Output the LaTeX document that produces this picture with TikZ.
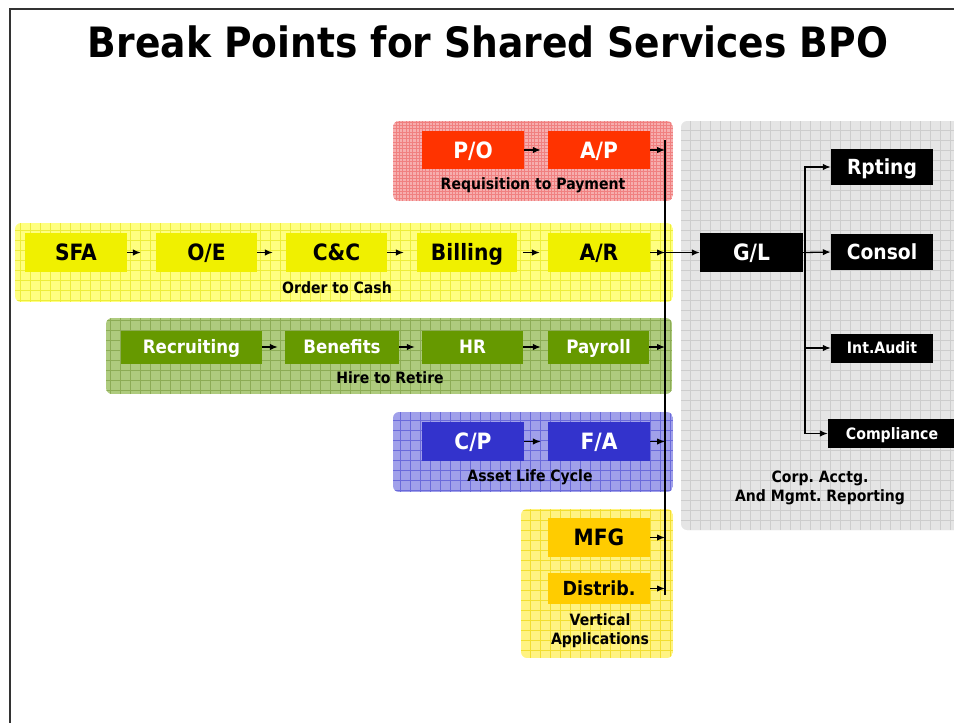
\documentclass[tikz,border=0pt]{standalone}
\usepackage{fontspec}
\newfontfamily\bpfont{DejaVu Sans}[FakeStretch=0.9]
\usetikzlibrary{arrows.meta,calc}
\frenchspacing

\definecolor{redbox}{HTML}{FF3300}
\definecolor{redpanel}{HTML}{F6AEAE}
\definecolor{redgrid}{HTML}{F08080}
\definecolor{yelbox}{HTML}{F0F000}
\definecolor{yelpanel}{HTML}{FFFF80}
\definecolor{yelgrid}{HTML}{EDED3A}
\definecolor{grnbox}{HTML}{669900}
\definecolor{grnpanel}{HTML}{AECB7E}
\definecolor{grngrid}{HTML}{8CAC55}
\definecolor{blubox}{HTML}{3333CC}
\definecolor{blupanel}{HTML}{A0A0EA}
\definecolor{blugrid}{HTML}{6A6ADA}
\definecolor{ambbox}{HTML}{FFCC00}
\definecolor{ambpanel}{HTML}{FFF382}
\definecolor{ambgrid}{HTML}{F2DE30}
\definecolor{gypanel}{HTML}{E5E5E5}
\definecolor{gygrid}{HTML}{CDCDCD}
\definecolor{framecol}{HTML}{333333}

% rounded background panel with a ruled grid: x1,y1,x2,y2,fill,grid colour,grid step
\newcommand\gridpanel[7]{%
  \begin{scope}
    \clip[rounded corners=6pt] (#1,#2) rectangle (#3,#4);
    \fill[#5] (#1,#2) rectangle (#3,#4);
    \draw[#6, line width=0.5pt, step=#7] (#1,#2) grid (#3,#4);
  \end{scope}}

\tikzset{
  box/.style={rectangle, inner sep=0pt, text depth=0pt},
  big/.style={box, font=\bpfont\bfseries\fontsize{22.5}{26}\selectfont, text height=16.4pt},
  mid/.style={box, font=\bpfont\bfseries\fontsize{18.5}{22}\selectfont, text height=13.5pt},
  redb/.style={big, fill=redbox, text=white, minimum width=102pt, minimum height=38pt},
  yelb/.style={big, fill=yelbox, text=black, minimum width=101pt, minimum height=39pt},
  grnb/.style={mid, fill=grnbox, text=white, minimum height=33pt},
  blub/.style={big, fill=blubox, text=white, minimum width=102pt, minimum height=39pt},
  ambb/.style={fill=ambbox, text=black, minimum width=102pt},
  blkb/.style={fill=black, text=white},
  grouplabel/.style={inner sep=0pt, align=center, font=\bpfont\bfseries\fontsize{15.6}{19}\selectfont},
  arr/.style={-{Latex[length=8pt,width=6.5pt]}, line width=1.3pt},
  link/.style={arr, shorten >=7pt},
  wire/.style={line width=1.2pt}
}

\begin{document}
\begin{tikzpicture}[x=1pt, y=-1pt]
\useasboundingbox (0,0) rectangle (954,723);

% slide frame
\draw[framecol, line width=1.6pt] (10,730) -- (10,9) -- (970,9);

% title
\node[font=\bpfont\bfseries\fontsize{41.8}{48}\selectfont, text height=30.5pt, text depth=0pt, inner sep=0pt]
  (title) at (488,42) {Break Points for Shared Services BPO};

% process panels
\gridpanel{393}{121}{673}{201}{redpanel}{redgrid}{3.3pt}
\gridpanel{15}{223}{673}{302}{yelpanel}{yelgrid}{10pt}
\gridpanel{106}{318}{672}{394}{grnpanel}{grngrid}{10pt}
\gridpanel{393}{412}{673}{492}{blupanel}{blugrid}{10pt}
\gridpanel{521}{509}{673}{658}{ambpanel}{ambgrid}{10pt}
\gridpanel{681}{121}{990}{530}{gypanel}{gygrid}{10pt}

% requisition to payment
\node[redb] (po) at (473,150) {P/O};
\node[redb] (ap) at (599,150) {A/P};
\node[grouplabel] (rtp) at (533,185) {Requisition to Payment};

% order to cash
\node[yelb, minimum width=102pt] (sfa) at (76,252.5) {SFA};
\node[yelb] (oe) at (206.5,252.5) {O/E};
\node[yelb] (cc) at (336.5,252.5) {C\&C};
\node[yelb, minimum width=100pt] (bill) at (467,252.5) {Billing};
\node[yelb, minimum width=102pt] (ar) at (599,252.5) {A/R};
\node[grouplabel] (otc) at (337,288) {Order to Cash};

% hire to retire
\node[grnb, minimum width=141pt] (rec) at (191.5,347) {Recruiting};
\node[grnb, minimum width=114pt] (ben) at (342,347) {Benefits};
\node[grnb, minimum width=101pt] (hr) at (472.5,347) {HR};
\node[grnb, minimum width=101pt] (pay) at (598.5,347) {Payroll};
\node[grouplabel] (htr) at (390,378) {Hire to Retire};

% asset life cycle
\node[blub] (cp) at (473,441.5) {C/P};
\node[blub] (fa) at (599,441.5) {F/A};
\node[grouplabel] (alc) at (530,477) {Asset Life Cycle};

% vertical applications
\node[big, ambb, minimum height=39pt] (mfg) at (599,537.5) {MFG};
\node[box, ambb, minimum height=31pt, font=\bpfont\bfseries\fontsize{19.4}{23}\selectfont, text height=14.1pt] (dist) at (599,588.5) {Distrib.};
\node[grouplabel] (vap) at (600,631) {Vertical\\Applications};

% corporate accounting
\node[big, blkb, minimum width=103pt, minimum height=39pt] (gl) at (751.5,252.5) {G/L};
\node[box, blkb, minimum width=102pt, minimum height=36pt, font=\bpfont\bfseries\fontsize{20.8}{24}\selectfont, text height=15.2pt] (rpt) at (882,167) {Rpting};
\node[box, blkb, minimum width=102pt, minimum height=36pt, font=\bpfont\bfseries\fontsize{20.8}{24}\selectfont, text height=15.2pt] (cons) at (882,252) {Consol};
\node[box, blkb, minimum width=102pt, minimum height=29pt, font=\bpfont\bfseries\fontsize{15.7}{19}\selectfont, text height=11.4pt] (ia) at (882,348) {Int.Audit};
\node[box, blkb, minimum width=128pt, minimum height=29pt, font=\bpfont\bfseries\fontsize{15.7}{19}\selectfont, text height=11.4pt] (comp) at (892,433.5) {Compliance};
\node[grouplabel] (corp) at (820,487.5) {Corp. Acctg.\\And Mgmt. Reporting};

% collecting bus and branch points
\coordinate (busT) at (665,140);
\coordinate (busB) at (665,595);
\coordinate (brT) at (805,167);
\draw[wire] (busT) -- (busB);

% flow within each process
\draw[link] (po) -- (ap);
\draw[arr, shorten >=15pt] (sfa) -- (oe);
\draw[arr, shorten >=13pt] (oe) -- (cc);
\draw[arr, shorten >=13pt] (cc) -- (bill);
\draw[arr, shorten <=6pt, shorten >=8pt] (bill) -- (ar);
\draw[link] (rec) -- (ben);
\draw[link] (ben) -- (hr);
\draw[link] (hr) -- (pay);
\draw[link] (cp) -- (fa);

% feeds into the bus
\draw[arr] (ap.east) -- (ap.east -| busT);
\draw[arr] (ar.east) -- (ar.east -| busT);
\draw[arr] (pay.east) -- (pay.east -| busT);
\draw[arr] (fa.east) -- (fa.east -| busT);
\draw[arr] (mfg.east) -- (mfg.east -| busT);
\draw[arr] (dist.east) -- (dist.east -| busT);
\draw[arr] (ar.east -| busT) -- (gl.west);

% general ledger branches
\draw[wire] (gl.east) -- (gl.east -| brT);
\draw[arr] (gl.east -| brT) |- (rpt.west);
\draw[arr] (gl.east -| brT) -- (cons.west);
\draw[arr] (gl.east -| brT) |- (ia.west);
\draw[arr] (gl.east -| brT) |- (comp.west);
\end{tikzpicture}
\end{document}
